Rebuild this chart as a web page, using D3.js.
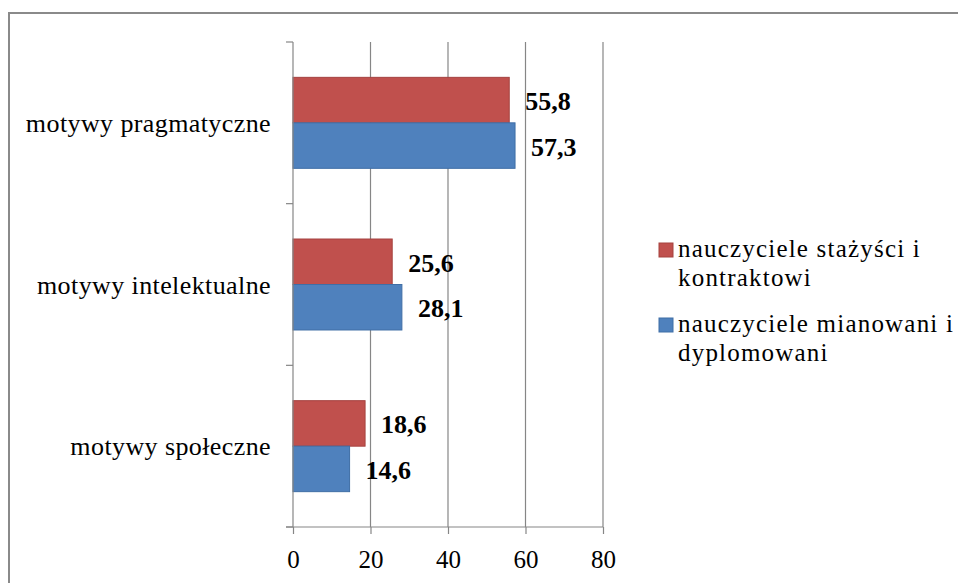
<!DOCTYPE html>
<html>
<head>
<meta charset="utf-8">
<script src="https://cdn.jsdelivr.net/npm/d3@7"></script>
<style>
  html, body { margin: 0; padding: 0; background: #fff; }
  svg { display: block; }
  text { font-family: "Liberation Serif", "Times New Roman", serif; fill: #000; }
</style>
</head>
<body>
<svg id="chart" width="958" height="583"></svg>
<script>
// Categories (top to bottom) and the two teacher groups
const categories = ["motywy pragmatyczne", "motywy intelektualne", "motywy społeczne"];
const seriesNames = ["nauczyciele stażyści i kontraktowi", "nauczyciele mianowani i dyplomowani"];
const legendLines = [["nauczyciele stażyści i", "kontraktowi"], ["nauczyciele mianowani i", "dyplomowani"]];
const stazysci = [55.8, 25.6, 18.6];
const mianowani = [57.3, 28.1, 14.6];
const xTicks = [0, 20, 40, 60, 80];
const colors = ["#C0504D", "#4F81BD"];
const strokes = ["#A5423F", "#3F6EA6"];

const svg = d3.select("#chart");

// Outer frame (open to the right and bottom)
svg.append("rect")
  .attr("x", 9).attr("y", 13)
  .attr("width", 1000).attr("height", 1000)
  .attr("fill", "none").attr("stroke", "#8a8a8a").attr("stroke-width", 2);

const plot = { left: 293, right: 603, top: 42, bottom: 527 };

const x = d3.scaleLinear().domain([0, 80]).range([plot.left, plot.right]);
const y = d3.scaleBand().domain(categories).range([plot.top, plot.bottom])
  .paddingInner(0).paddingOuter(0);
const inner = d3.scaleBand().domain([0, 1])
  .range([0, y.bandwidth()]).paddingOuter(0.777).paddingInner(0);

const gridColor = "#868686";

// Vertical gridlines
svg.append("g").selectAll("line")
  .data(xTicks.filter(t => t > 0))
  .join("line")
  .attr("x1", d => x(d)).attr("x2", d => x(d))
  .attr("y1", plot.top).attr("y2", plot.bottom)
  .attr("stroke", gridColor).attr("stroke-width", 1.2);

// Bars
const rows = categories.map((c, i) => ({ cat: c, vals: [stazysci[i], mianowani[i]] }));
const groups = svg.append("g").selectAll("g")
  .data(rows).join("g")
  .attr("transform", d => `translate(0,${y(d.cat)})`);

groups.selectAll("rect")
  .data(d => d.vals.map((v, s) => ({ v, s })))
  .join("rect")
  .attr("x", x(0))
  .attr("y", d => inner(d.s))
  .attr("width", d => x(d.v) - x(0))
  .attr("height", inner.bandwidth())
  .attr("fill", d => colors[d.s])
  .attr("stroke", d => strokes[d.s]).attr("stroke-width", 1);

// Value labels
const fmt = v => d3.format(".1f")(v).replace(".", ",");
groups.selectAll("text")
  .data(d => d.vals.map((v, s) => ({ v, s })))
  .join("text")
  .attr("x", d => x(d.v) + 16)
  .attr("y", d => inner(d.s) + inner.bandwidth() / 2 + 10)
  .attr("font-size", 26).attr("font-weight", "bold")
  .text(d => fmt(d.v));

// Category axis
const yAxis = svg.append("g")
  .attr("transform", `translate(${plot.left},0)`);
yAxis.append("line")
  .attr("x1", 0).attr("x2", 0).attr("y1", plot.top).attr("y2", plot.bottom)
  .attr("stroke", gridColor).attr("stroke-width", 1.2);
const bounds = categories.map(c => y(c)).concat([plot.bottom]);
yAxis.selectAll(".tick")
  .data(bounds).join("line")
  .attr("x1", -7).attr("x2", 0)
  .attr("y1", d => d).attr("y2", d => d)
  .attr("stroke", gridColor).attr("stroke-width", 1.2);
yAxis.selectAll("text")
  .data(categories).join("text")
  .attr("x", -22)
  .attr("y", d => y(d) + y.bandwidth() / 2 + 9)
  .attr("text-anchor", "end")
  .attr("font-size", 26)
  .attr("letter-spacing", 0.4)
  .text(d => d);

// Value axis
const xAxis = svg.append("g")
  .attr("transform", `translate(0,${plot.bottom})`)
  .call(d3.axisBottom(x).tickValues(xTicks).tickSize(7).tickSizeOuter(0).tickPadding(16));
xAxis.select(".domain").remove();
xAxis.append("line")
  .attr("x1", plot.left - 7).attr("x2", plot.right)
  .attr("stroke", gridColor).attr("stroke-width", 1.2);
xAxis.selectAll(".tick line").attr("stroke", gridColor).attr("stroke-width", 1.2);
xAxis.selectAll(".tick text")
  .attr("font-size", 25)
  .attr("font-family", "Liberation Serif, Times New Roman, serif")
  .attr("fill", "#000");

// Legend
const legend = svg.append("g");
const legendY = [243, 318];
legendLines.forEach((lines, i) => {
  const g = legend.append("g").attr("transform", `translate(659,${legendY[i]})`);
  g.append("rect")
    .attr("width", 14).attr("height", 14)
    .attr("fill", colors[i]).attr("stroke", strokes[i]).attr("stroke-width", 1);
  lines.forEach((t, k) => {
    g.append("text")
      .attr("x", 19).attr("y", 14 + k * 29)
      .attr("font-size", 25)
      .attr("letter-spacing", 1.2)
      .text(t);
  });
});
</script>
</body>
</html>
